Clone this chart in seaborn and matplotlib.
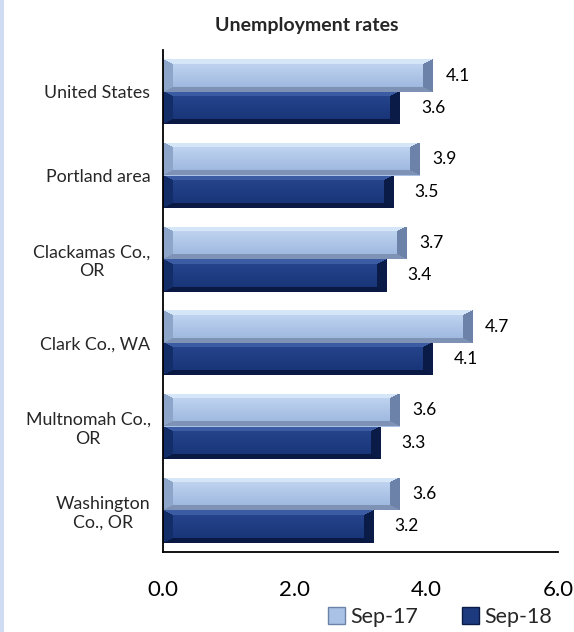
import numpy as np
import pandas as pd
import matplotlib
matplotlib.use("Agg")
import matplotlib.pyplot as plt
import matplotlib.colors as mcolors
from matplotlib.patches import Rectangle, Patch
import seaborn as sns

regions = ["United States", "Portland area", "Clackamas Co.,\nOR", "Clark Co., WA",
           "Multnomah Co.,\nOR", "Washington\nCo., OR"]
periods = ["Sep-17", "Sep-18"]
sep17 = [4.1, 3.9, 3.7, 4.7, 3.6, 3.6]
sep18 = [3.6, 3.5, 3.4, 4.1, 3.3, 3.2]
xticks = [0.0, 2.0, 4.0, 6.0]
title = "Unemployment rates"

df = pd.DataFrame({
    "region": regions * 2,
    "period": [periods[0]] * len(regions) + [periods[1]] * len(regions),
    "rate": sep17 + sep18,
})

sns.set_style("white")
plt.rcParams["font.family"] = ["Lato", "DejaVu Sans"]

W, H = 574, 632
fig = plt.figure(figsize=(W / 100, H / 100), dpi=100)
ax = fig.add_axes([163 / W, 1 - 552 / H, (558 - 163) / W, (552 - 50) / H])

base_cols = ["#a9c2e6", "#1d3a7e"]
sns.barplot(data=df, y="region", x="rate", hue="period", orient="h", width=0.78,
            palette=base_cols, legend=False, ax=ax, saturation=1,
            edgecolor="none", linewidth=0)

ax.set_xlim(0, 6)
ax.set_ylim(5.5, -0.5)
ax.set_xticks(xticks)
ax.set_xticklabels([f"{v:.1f}" for v in xticks], fontsize=16)
ax.set_xlabel("")
ax.set_ylabel("")
for s in ["top", "right"]:
    ax.spines[s].set_visible(False)
for s in ["left", "bottom"]:
    ax.spines[s].set_color("black")
    ax.spines[s].set_linewidth(1.3)
ax.tick_params(axis="x", direction="inout", length=14, width=1.3, pad=13, colors="black")
ax.tick_params(axis="y", length=0, pad=9)
for lab in ax.get_yticklabels():
    lab.set_fontsize(12.8)
    lab.set_multialignment("center")
ax.set_title(title, fontsize=14, fontweight="bold", pad=14, x=(307 - 163) / (558 - 163))

styles = {
    0: dict(top="#d6e6f9", bottom="#7d92b4", left="#8ea5ca", right="#6c82a8",
            c0="#c6d9f3", c1="#98b3dc"),
    1: dict(top="#3b5ba2", bottom="#0a1944", left="#132d68", right="#0a1b48",
            c0="#28478e", c1="#163276"),
}


def rgb(c):
    return np.array(mcolors.to_rgb(c))


def bevel_image(h, w, st):
    h = max(int(round(h)), 2)
    w = max(int(round(w)), 2)
    i = np.arange(h)[:, None] + 0.5
    j = np.arange(w)[None, :] + 0.5
    bv, bh = 5.0, 10.0
    dt = np.broadcast_to(i / bv, (h, w))
    db = np.broadcast_to((h - i) / bv, (h, w))
    dl = np.broadcast_to(j / bh, (h, w))
    dr = np.broadcast_to((w - j) / bh, (h, w))
    stack = np.stack([dt, db, dl, dr])
    face = np.argmin(stack, axis=0)
    mn = np.min(stack, axis=0)
    t = (i / h)
    center = rgb(st["c0"])[None, None, :] * (1 - t[..., None]) + rgb(st["c1"])[None, None, :] * t[..., None]
    img = np.broadcast_to(center, (h, w, 3)).copy()
    cols = [rgb(st["top"]), rgb(st["bottom"]), rgb(st["left"]), rgb(st["right"])]
    for k in range(4):
        m = (face == k) & (mn < 1)
        img[m] = cols[k]
    return img


fig.canvas.draw()
for k, cont in enumerate(ax.containers):
    for p in cont.patches:
        x0, y0 = p.get_x(), p.get_y()
        wd, ht = p.get_width(), p.get_height()
        (px0, py0), (px1, py1) = ax.transData.transform([(x0, y0), (x0 + wd, y0 + ht)])
        img = bevel_image(abs(py1 - py0), abs(px1 - px0), styles[k])
        im = ax.imshow(img, extent=(x0, x0 + wd, y0 + ht, y0), aspect="auto",
                       interpolation="nearest", zorder=p.get_zorder() + 0.1)
        im.set_clip_path(p)
        val = x0 + wd
        ax.annotate(f"{val:.1f}", (val, y0 + ht / 2), xytext=(9 if k == 0 else 15, 0),
                    textcoords="offset points", va="center", ha="left", fontsize=12.5,
                    color="black")

ax.set_xlim(0, 6)
ax.set_ylim(5.5, -0.5)

handles = [Patch(facecolor=base_cols[0], edgecolor="#6c82a8"),
           Patch(facecolor=base_cols[1], edgecolor="#0a1b48")]
fig.legend(handles, periods, loc="center", bbox_to_anchor=(440 / W, 1 - 617 / H), ncol=2,
           frameon=False, fontsize=15.5, handlelength=0.8, handleheight=0.8,
           handletextpad=0.25, columnspacing=2.0)

fig.patches.append(Rectangle((0, 0), 4 / W, 1, transform=fig.transFigure,
                             facecolor="#cfdcf3", edgecolor="none", zorder=-1))

fig.savefig("out.png", dpi=100)
